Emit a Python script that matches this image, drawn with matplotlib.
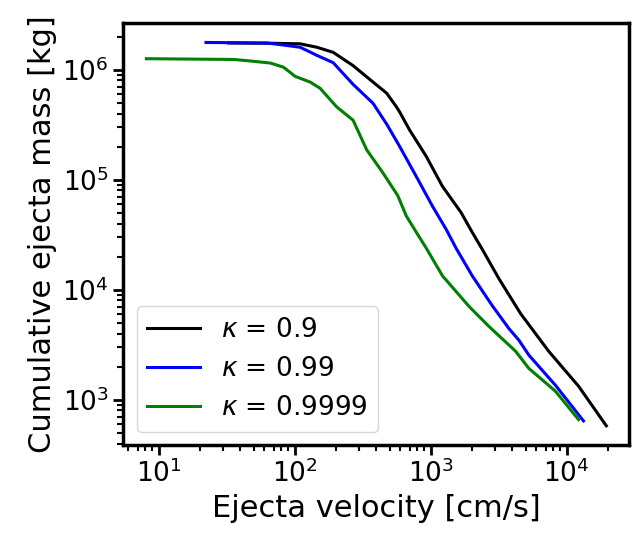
import matplotlib
matplotlib.use("Agg")
import matplotlib.pyplot as plt

# Cumulative ejecta mass vs ejecta velocity for three values of kappa
v_k09 = [32.7, 66.5, 110, 146, 192, 269, 377, 476, 561, 593, 701, 929, 1222,
         1673, 2023, 2394, 3186, 4590, 7388, 12240, 19590]
m_k09 = [1.75e6, 1.74e6, 1.72e6, 1.60e6, 1.44e6, 1.09e6, 7.73e5, 6.11e5,
         4.59e5, 4.12e5, 2.83e5, 1.63e5, 8.71e4, 5.05e4, 3.33e4, 2.34e4,
         1.256e4, 6.07e3, 2.76e3, 1.33e3, 580]

v_k099 = [22.3, 63, 88, 110, 146, 192, 269, 377, 480, 593, 785, 1032, 1300,
          1538, 2023, 2833, 3770, 4460, 5275, 8260, 13300]
m_k099 = [1.77e6, 1.75e6, 1.66e6, 1.60e6, 1.35e6, 1.16e6, 7.37e5, 4.96e5,
          3.14e5, 2.0e5, 1.07e5, 5.75e4, 3.55e4, 2.39e4, 1.34e4, 7.2e3,
          4.43e3, 3.48e3, 2.55e3, 1.36e3, 643]

v_k09999 = [8.13, 35.7, 47.5, 66.5, 82.8, 101, 130, 154, 204, 269, 339, 445,
            573, 663, 785, 929, 1222, 1924, 2692, 4219, 5275, 8260, 12240]
m_k09999 = [1.26e6, 1.24e6, 1.2e6, 1.15e6, 1.055e6, 8.7e5, 7.73e5, 6.78e5,
            4.59e5, 3.48e5, 1.87e5, 1.16e5, 7.19e4, 4.68e4, 3.33e4, 2.39e4,
            1.34e4, 7.02e3, 4.63e3, 2.76e3, 1.93e3, 1.20e3, 661]

labels = [r"$\kappa$ = 0.9", r"$\kappa$ = 0.99", r"$\kappa$ = 0.9999"]
colors = ["k", "b", "g"]

fig = plt.figure(figsize=(6.36, 5.39), dpi=100)
ax = fig.add_axes([0.194, 0.1744, 0.7955, 0.7824])

for v, m, lab, c in zip([v_k09, v_k099, v_k09999],
                        [m_k09, m_k099, m_k09999], labels, colors):
    ax.plot(v, m, color=c, lw=2.2, label=lab, solid_joinstyle="round")

ax.set_xscale("log")
ax.set_yscale("log")
ax.set_xlabel("Ejecta velocity [cm/s]", fontsize=22)
ax.set_ylabel("Cumulative ejecta mass [kg]", fontsize=22)
ax.tick_params(which="major", labelsize=19, length=7, width=2)
ax.tick_params(which="minor", length=4, width=1.5)
for s in ax.spines.values():
    s.set_linewidth(2.5)

ax.legend(loc="lower left", fontsize=19)

fig.savefig("out.png", dpi=100)
